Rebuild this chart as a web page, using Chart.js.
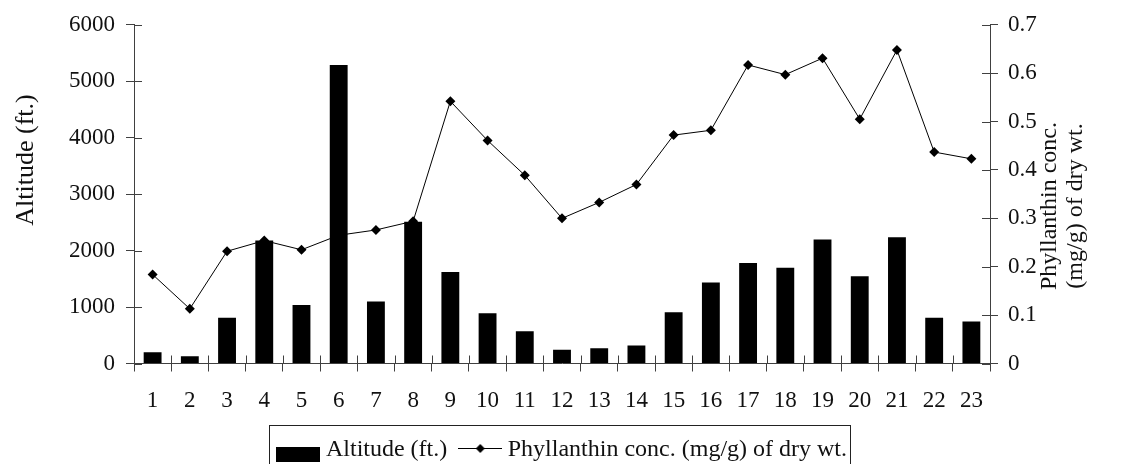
<!DOCTYPE html>
<html>
<head>
<meta charset="utf-8">
<title>Altitude and Phyllanthin concentration</title>
<script src="https://cdn.jsdelivr.net/npm/chart.js@4.4.1/dist/chart.umd.min.js"></script>
<style>
    html, body { margin: 0; padding: 0; background: #fff; overflow: hidden; }
    #wrap { position: relative; width: 1130px; height: 480px; }
</style>
</head>
<body>
<div id="wrap"><canvas id="altitudeChart" width="1130" height="480"></canvas></div>
<script>
// Chart data
const sites = ['1', '2', '3', '4', '5', '6', '7', '8', '9', '10', '11', '12',
    '13', '14', '15', '16', '17', '18', '19', '20', '21', '22', '23'];
const altitude = [200, 130, 810, 2180, 1035, 5290, 1100, 2510, 1620, 890, 570, 245,
    270, 320, 910, 1435, 1780, 1695, 2195, 1545, 2235, 810, 745];
const phyllanthin = [0.184, 0.113, 0.232, 0.254, 0.235, 0.265, 0.276, 0.294, 0.542, 0.461, 0.389, 0.300,
    0.333, 0.370, 0.472, 0.482, 0.617, 0.597, 0.631, 0.505, 0.648, 0.437, 0.423];
const altitudeTicks = [0, 1000, 2000, 3000, 4000, 5000, 6000];
const concTicks = [0, 0.1, 0.2, 0.3, 0.4, 0.5, 0.6, 0.7];

const FONT = 'Liberation Serif, Times New Roman, serif';
const AXIS_COLOR = '#404040';
const TEXT_COLOR = '#111';

// Legend markers drawn on small canvases
function barMarker() {
    const c = document.createElement('canvas');
    c.width = 44; c.height = 30;
    const g = c.getContext('2d');
    g.fillStyle = '#000';
    g.fillRect(0, 12, 44, 15);
    return c;
}

function lineMarker() {
    const c = document.createElement('canvas');
    c.width = 44; c.height = 16;
    const g = c.getContext('2d');
    g.strokeStyle = '#000';
    g.lineWidth = 1;
    g.beginPath();
    g.moveTo(0, 6.5);
    g.lineTo(44, 6.5);
    g.stroke();
    g.fillStyle = '#000';
    g.beginPath();
    g.moveTo(22, 2);
    g.lineTo(26.5, 6.5);
    g.lineTo(22, 11);
    g.lineTo(17.5, 6.5);
    g.closePath();
    g.fill();
    return c;
}

const markers = [barMarker(), lineMarker()];

// Ticks that cross the axis lines, plus titles and the legend frame
const decorations = {
    id: 'decorations',
    afterDraw(chart) {
        const ctx = chart.ctx;
        const x = chart.scales.x;
        const y = chart.scales.y;
        const y1 = chart.scales.y1;
        const half = 8;

        ctx.save();
        ctx.strokeStyle = AXIS_COLOR;
        ctx.lineWidth = 1;
        ctx.beginPath();
        // inner halves of category ticks
        const step = x.width / sites.length;
        for (let i = 1; i < sites.length; i++) {
            const px = Math.round(x.left + i * step) + 0.5;
            ctx.moveTo(px, x.top);
            ctx.lineTo(px, x.top - half);
        }
        y.ticks.forEach(t => {
            const py = Math.round(y.getPixelForValue(t.value)) + 0.5;
            ctx.moveTo(y.right, py);
            ctx.lineTo(y.right + half, py);
        });
        y1.ticks.forEach(t => {
            const py = Math.round(y1.getPixelForValue(t.value)) + 0.5;
            ctx.moveTo(y1.left, py);
            ctx.lineTo(y1.left - half, py);
        });
        ctx.stroke();

        // axis titles, both read bottom to top
        ctx.fillStyle = TEXT_COLOR;
        ctx.font = '26px ' + FONT;
        ctx.textAlign = 'center';
        ctx.textBaseline = 'middle';
        ctx.save();
        ctx.translate(26, 160);
        ctx.rotate(-Math.PI / 2);
        ctx.fillText('Altitude (ft.)', 0, 0);
        ctx.restore();

        ctx.font = '24px ' + FONT;
        ctx.save();
        ctx.translate(1050, 206);
        ctx.rotate(-Math.PI / 2);
        ctx.fillText('Phyllanthin conc.', 0, 0);
        ctx.fillText('(mg/g) of dry wt.', 0, 26);
        ctx.restore();

        // frame round the legend
        const boxes = chart.legend.legendHitBoxes;
        if (boxes && boxes.length) {
            const first = boxes[0];
            const last = boxes[boxes.length - 1];
            const left = Math.round(first.left - 14) + 0.5;
            const right = Math.round(last.left + last.width + 3) + 0.5;
            const top = 425.5;
            ctx.strokeStyle = '#222';
            ctx.strokeRect(left, top, right - left, 60);
        }
        ctx.restore();
    }
};

const ctx = document.getElementById('altitudeChart');
new Chart(ctx, {
    type: 'bar',
    data: {
        labels: sites,
        datasets: [
            {
                type: 'bar',
                label: 'Altitude (ft.)',
                data: altitude,
                yAxisID: 'y',
                backgroundColor: '#000',
                borderWidth: 0,
                barPercentage: 0.48,
                categoryPercentage: 1,
                order: 2
            },
            {
                type: 'line',
                label: 'Phyllanthin conc. (mg/g) of dry wt.',
                data: phyllanthin,
                yAxisID: 'y1',
                borderColor: '#000',
                borderWidth: 1,
                backgroundColor: '#000',
                pointStyle: 'rectRot',
                pointRadius: 5,
                pointBackgroundColor: '#000',
                pointBorderWidth: 0,
                tension: 0,
                order: 1
            }
        ]
    },
    options: {
        responsive: false,
        animation: false,
        events: [],
        layout: {
            padding: { top: 24, bottom: 8, left: 0, right: 0 }
        },
        plugins: {
            tooltip: { enabled: false },
            legend: {
                position: 'bottom',
                labels: {
                    color: TEXT_COLOR,
                    font: { family: FONT, size: 24 },
                    usePointStyle: true,
                    pointStyleWidth: 31,
                    boxHeight: 24,
                    padding: 17.5,
                    generateLabels: function (chart) {
                        const items = Chart.defaults.plugins.legend.labels.generateLabels(chart);
                        items.sort((a, b) => a.datasetIndex - b.datasetIndex);
                        items.forEach(item => {
                            item.pointStyle = markers[item.datasetIndex];
                        });
                        return items;
                    }
                }
            }
        },
        scales: {
            x: {
                afterFit: function (scale) { scale.height = 57; },
                grid: {
                    offset: true,
                    drawOnChartArea: false,
                    drawTicks: true,
                    tickLength: 8,
                    color: AXIS_COLOR
                },
                border: { display: true, color: AXIS_COLOR },
                ticks: {
                    color: TEXT_COLOR,
                    font: { family: FONT, size: 23 },
                    padding: 16,
                    maxRotation: 0,
                    autoSkip: false
                }
            },
            y: {
                position: 'left',
                min: 0,
                max: 6000,
                afterFit: function (scale) { scale.width = 134; },
                afterBuildTicks: function (scale) {
                    scale.ticks = altitudeTicks.map(v => ({ value: v }));
                },
                grid: {
                    drawOnChartArea: false,
                    drawTicks: true,
                    tickLength: 8,
                    color: AXIS_COLOR
                },
                border: { display: true, color: AXIS_COLOR },
                ticks: {
                    color: TEXT_COLOR,
                    font: { family: FONT, size: 23 },
                    padding: 11,
                    callback: function (value) {
                        return String(value);
                    }
                }
            },
            y1: {
                position: 'right',
                min: 0,
                max: 0.7,
                afterFit: function (scale) { scale.width = 140; },
                afterBuildTicks: function (scale) {
                    scale.ticks = concTicks.map(v => ({ value: v }));
                },
                grid: {
                    drawOnChartArea: false,
                    drawTicks: true,
                    tickLength: 8,
                    color: AXIS_COLOR
                },
                border: { display: true, color: AXIS_COLOR },
                ticks: {
                    color: TEXT_COLOR,
                    font: { family: FONT, size: 23 },
                    padding: 10,
                    callback: function (value) {
                        return value === 0 ? '0' : value.toFixed(1);
                    }
                }
            }
        }
    },
    plugins: [decorations]
});
</script>
</body>
</html>
